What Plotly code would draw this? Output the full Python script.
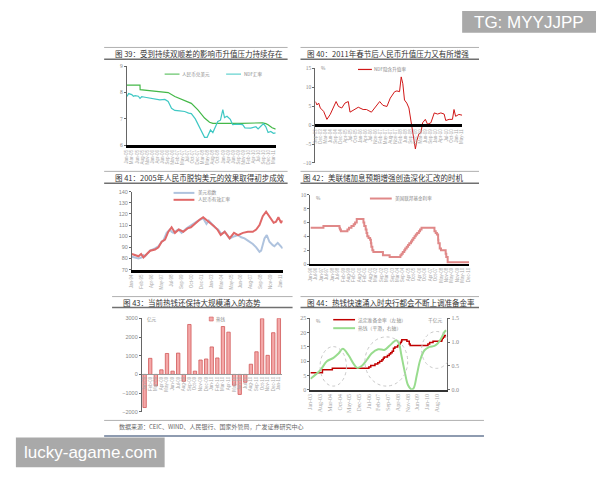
import plotly.graph_objects as go
import pandas as pd

CJK = "Noto Sans CJK SC"
NUM = "Liberation Sans"
SERIF = "Liberation Serif"

# ---------------- data ----------------
# Fig 39: USD/CNY spot and NDF
f39_cny_dates = ["2005-01-01", "2005-07-20", "2005-07-22", "2005-12-20", "2006-05-20", "2006-09-25",
                 "2007-01-05", "2007-04-15", "2007-09-15", "2007-12-25", "2008-04-05", "2008-06-20",
                 "2008-08-10", "2009-10-15", "2010-06-25", "2010-09-10", "2010-11-01", "2010-12-05",
                 "2011-02-05", "2011-04-01"]
f39_cny = [8.28, 8.28, 8.11, 8.08, 8.04, 8.00, 7.85, 7.75, 7.59, 7.34, 7.03, 6.87,
           6.83, 6.83, 6.83, 6.85, 6.82, 6.78, 6.66, 6.61]
f39_ndf_dates = ["2005-01-01", "2005-01-26", "2005-03-15", "2005-04-10", "2005-05-05", "2005-06-25",
                 "2005-07-20", "2005-08-15", "2005-10-05", "2005-12-20", "2006-03-05", "2006-05-20",
                 "2006-08-05", "2006-09-25", "2006-11-15", "2007-01-05", "2007-03-20", "2007-06-05",
                 "2007-08-05", "2007-09-15", "2007-11-15", "2007-12-25", "2008-02-05", "2008-03-10",
                 "2008-04-05", "2008-05-15", "2008-06-05", "2008-07-05", "2008-08-10", "2008-09-15",
                 "2008-10-25", "2008-12-05", "2009-01-10", "2009-02-05", "2009-03-15", "2009-05-05",
                 "2009-06-10", "2009-08-25", "2009-11-10", "2009-12-15", "2010-03-15", "2010-06-01",
                 "2010-07-05", "2010-08-15", "2010-09-25", "2010-11-01", "2010-12-05", "2011-01-15",
                 "2011-02-25", "2011-04-01"]
f39_ndf = [7.85, 7.96, 7.92, 7.86, 7.88, 7.86, 7.78, 7.84, 7.82, 7.78, 7.74, 7.72,
           7.74, 7.66, 7.40, 7.32, 7.30, 7.28, 7.22, 7.20, 7.00, 6.80, 6.62, 6.45,
           6.30, 6.30, 6.45, 6.58, 6.48, 6.65, 6.90, 6.95, 7.35, 7.05, 7.10, 6.98,
           6.78, 6.80, 6.78, 6.66, 6.65, 6.70, 6.62, 6.72, 6.82, 6.70, 6.48, 6.52,
           6.45, 6.47]

# Fig 40: NDF implied appreciation (%)
f40_dates = ["2003-09-01", "2003-10-02", "2003-11-03", "2003-12-05", "2004-02-07", "2004-04-10",
             "2004-06-12", "2004-08-15", "2004-10-03", "2004-11-18", "2005-01-20", "2005-03-22",
             "2005-05-25", "2005-06-27", "2005-10-01", "2005-12-03", "2006-03-06", "2006-05-09",
             "2006-08-12", "2006-11-15", "2007-01-18", "2007-03-21", "2007-06-06", "2007-08-09",
             "2007-11-01", "2007-12-15", "2008-02-03", "2008-03-06", "2008-04-06", "2008-05-08",
             "2008-06-21", "2008-08-01", "2008-09-01", "2008-10-02", "2008-10-27", "2008-12-03",
             "2009-01-01", "2009-02-06", "2009-03-20", "2009-04-21", "2009-06-12", "2009-07-25",
             "2009-09-27", "2009-12-01", "2010-02-03", "2010-04-06", "2010-06-08", "2010-07-09",
             "2010-09-12", "2010-11-15", "2010-12-15", "2011-01-15", "2011-03-18", "2011-05-20"]
f40_rate = [6.2, 5.3, 5.8, 4.5, 3.6, 1.5, 2.8, 4.5, 6.2, 4.9, 4.5, 5.8,
            6.2, 3.4, 4.1, 4.7, 4.1, 4.1, 3.4, 5.2, 6.2, 5.2, 4.9, 7.1,
            8.8, 9.0, 8.8, 12.7, 10.9, 6.6, 5.8, 4.5, 1.5, -1.1, -3.7, -6.3,
            -4.1, -2.4, -2.0, 0.6, 1.5, 0.2, 0.6, 3.2, 2.9, 3.2, 2.9, 1.2,
            1.5, 1.5, 4.1, 2.3, 2.8, 2.6]

# Fig 41: USD index and CNY effective rate
f41_usd_dates = ["1994-01-01", "1994-05-15", "1994-10-03", "1995-02-18", "1995-04-27", "1995-07-06",
                 "1996-02-01", "1996-08-25", "1997-01-12", "1997-05-28", "1997-08-06", "1997-12-21",
                 "1998-05-09", "1998-07-15", "1998-09-24", "1999-04-18", "1999-09-06", "2000-04-01",
                 "2000-10-25", "2001-07-28", "2002-02-22", "2002-07-09", "2002-10-15", "2003-02-03",
                 "2003-06-19", "2003-11-06", "2004-03-22", "2004-08-09", "2005-03-03", "2005-09-27",
                 "2006-02-15", "2006-07-01", "2006-11-16", "2007-04-03", "2007-10-27", "2008-03-15",
                 "2008-08-01", "2008-10-09", "2009-02-25", "2009-06-01", "2009-09-18", "2010-02-05",
                 "2010-04-15", "2010-09-01", "2011-01-16", "2011-03-25"]
f41_usd = [81.5, 81, 80, 81, 83, 82, 87, 89, 91, 95, 96, 103,
           106, 104, 103, 106, 103, 107, 110, 114, 116, 111, 114, 111,
           108, 106, 102, 104, 98, 100, 101, 99, 98, 96, 93, 90,
           86, 87, 98, 101, 95, 92, 91, 94, 90, 89]
f41_cny_dates = ["1994-01-01", "1994-05-15", "1994-10-03", "1995-01-20", "1995-04-27", "1995-09-15",
                 "1996-02-01", "1996-08-25", "1997-01-12", "1997-05-28", "1997-10-15", "1998-03-01",
                 "1998-07-15", "1998-12-03", "1999-05-15", "1999-11-15", "2000-05-12", "2000-09-28",
                 "2001-04-21", "2001-10-06", "2002-02-22", "2002-08-19", "2003-01-06", "2003-05-22",
                 "2003-10-09", "2004-02-25", "2004-08-09", "2005-03-03", "2005-09-01", "2006-02-15",
                 "2006-09-09", "2007-04-03", "2007-10-27", "2008-03-15", "2008-08-01", "2008-12-15",
                 "2009-05-03", "2009-07-12", "2009-11-28", "2010-03-15", "2010-06-21", "2010-09-28",
                 "2010-12-06", "2011-01-16", "2011-03-25"]
f41_cny = [84, 83, 82, 84, 81, 84, 87, 88, 90, 95, 97, 104,
           108, 103, 106, 104, 107, 108, 112, 115, 117, 114, 112, 109,
           106, 101, 104, 98, 103, 101, 103, 104, 104, 106, 110, 118,
           122, 120, 115, 112, 113, 117, 114, 112, 114]

# Fig 42: US federal funds target rate (%)
f42_dates = ["1996-01-01", "1997-03-25", "1998-09-29", "1998-10-15", "1998-11-17", "1999-06-30",
             "1999-08-24", "1999-11-16", "2000-02-02", "2000-03-21", "2000-05-16", "2001-01-03",
             "2001-01-31", "2001-03-20", "2001-04-18", "2001-05-15", "2001-06-27", "2001-08-21",
             "2001-09-17", "2001-10-02", "2001-11-06", "2001-12-11", "2002-11-06", "2003-06-25",
             "2004-06-30", "2004-08-10", "2004-09-21", "2004-11-10", "2004-12-14", "2005-02-02",
             "2005-03-22", "2005-05-03", "2005-06-30", "2005-08-09", "2005-09-20", "2005-11-01",
             "2005-12-13", "2006-01-31", "2006-03-28", "2006-05-10", "2006-06-29", "2007-09-18",
             "2007-10-31", "2007-12-11", "2008-01-22", "2008-01-30", "2008-03-18", "2008-04-30",
             "2008-10-08", "2008-10-29", "2008-12-16", "2010-12-25"]
f42_fed = [5.25, 5.50, 5.25, 5.00, 4.75, 5.00, 5.25, 5.50, 5.75, 6.00, 6.50, 6.00,
           5.50, 5.00, 4.50, 4.00, 3.75, 3.50, 3.00, 2.50, 2.00, 1.75, 1.25, 1.00,
           1.25, 1.50, 1.75, 2.00, 2.25, 2.50, 2.75, 3.00, 3.25, 3.50, 3.75, 4.00,
           4.25, 4.50, 4.75, 5.00, 5.25, 4.75, 4.50, 4.25, 3.50, 3.00, 2.25, 2.00,
           1.50, 1.00, 0.25, 0.25]

# Fig 43: monthly hot money (100 million yuan)
f43_months = ["Jan-09", "Feb-09", "Mar-09", "Apr-09", "May-09", "Jun-09", "Jul-09", "Aug-09",
              "Sep-09", "Oct-09", "Nov-09", "Dec-09", "Jan-10", "Feb-10", "Mar-10", "Apr-10",
              "May-10", "Jun-10", "Jul-10", "Aug-10", "Sep-10", "Oct-10", "Nov-10", "Dec-10", "Jan-11"]
f43_hot = [-1770, 860, -610, 245, 1120, 175, 1140, -370, 2670, 175, 770, 825,
           1470, 880, 2560, 2260, -580, -1070, -420, 545, 1210, 2980, 1020, 2230, 3000]

# Fig 44: required reserve ratio (%) and smoothed hot money (trillion yuan)
f44_rrr_dates = ["2003-01-01", "2003-09-21", "2004-04-25", "2006-07-05", "2006-08-15", "2006-11-15",
                 "2007-01-15", "2007-02-25", "2007-04-16", "2007-05-15", "2007-06-05", "2007-08-15",
                 "2007-09-25", "2007-10-25", "2007-11-26", "2007-12-25", "2008-01-25", "2008-03-25",
                 "2008-04-25", "2008-05-20", "2008-06-15", "2008-06-25", "2008-10-15", "2008-12-05",
                 "2008-12-25", "2010-01-18", "2010-02-25", "2010-05-10", "2010-11-16", "2010-11-29",
                 "2010-12-20", "2011-01-20", "2011-02-20"]
f44_rrr = [6.0, 7.0, 7.5, 8.0, 8.5, 9.0, 9.5, 10.0, 10.5, 11.0, 11.5, 12.0,
           12.5, 13.0, 13.5, 14.5, 15.0, 15.5, 16.0, 16.5, 17.0, 17.5, 17.0, 16.0,
           15.5, 16.0, 16.5, 17.0, 17.5, 18.0, 18.5, 19.0, 19.0]
f44_hot_dates = ["2003-01-01", "2003-08-04", "2003-12-28", "2004-05-20", "2004-09-07", "2004-12-10",
                 "2005-04-12", "2005-08-01", "2005-10-25", "2006-01-28", "2006-05-15", "2006-09-01",
                 "2007-01-25", "2007-06-18", "2007-10-04", "2008-02-28", "2008-04-25", "2008-06-15",
                 "2008-08-28", "2008-11-07", "2009-01-19", "2009-03-09", "2009-05-20", "2009-08-01",
                 "2009-11-04", "2010-02-22", "2010-06-10", "2010-08-20", "2010-11-01", "2011-01-13",
                 "2011-02-20"]
f44_hot = [0.23, 0.41, 0.60, 0.67, 0.76, 0.86, 0.73, 0.55, 0.46, 0.50, 0.62, 0.76,
           0.85, 0.84, 0.93, 1.04, 0.97, 0.73, 0.38, 0.10, 0.01, 0.03, 0.31, 0.62,
           0.83, 0.90, 0.92, 0.97, 1.07, 1.21, 1.25]
# highlighted periods (dates, left-axis values)
f44_circles = [("2003-08-01", "2005-03-01", 1.3, 15.1),
               ("2006-04-10", "2008-11-01", 1.3, 18.5),
               ("2009-09-01", "2011-06-12", 7.5, 20.4)]

# ---------------- helpers ----------------
W, H = 600, 480
def px(x): return x / W
def py(y): return 1 - y / H

shapes, annotations = [], []
XTICK_C = "#a8a8a8"
LEG_C = "#888888"

def hline(x0, x1, y, color, width):
    shapes.append(dict(type="line", xref="paper", yref="paper", x0=px(x0), x1=px(x1),
                       y0=py(y), y1=py(y), line=dict(color=color, width=width)))

def text(x, y, s, size, color="#555", anchor="left", family=CJK):
    annotations.append(dict(xref="paper", yref="paper", x=px(x), y=py(y), text=s, showarrow=False,
                            xanchor=anchor, yanchor="middle", borderpad=0,
                            font=dict(size=size, color=color, family=family)))

def dticks(start, end, n=None, freq=None):
    if freq:
        r = pd.date_range(start, end, freq=freq)
    else:
        r = pd.date_range(start, end, periods=n)
    return [t.strftime("%Y-%m-%d") for t in r], [t.strftime("%b-%y") for t in r]

def xdate(dom, rng, anchor, tv, tsize=4.5, lw=3, lc="#000", free=None, tfam=NUM):
    vals, txt = tv
    d = dict(type="date", domain=[px(dom[0]), px(dom[1])], range=rng, anchor=anchor,
             tickmode="array", tickvals=vals, ticktext=txt, tickangle=-90,
             tickfont=dict(size=tsize, color=XTICK_C, family=tfam),
             showline=True, linecolor=lc, linewidth=lw, showgrid=False, zeroline=False, ticks="")
    if free is not None:
        d["anchor"] = "free"
        d["position"] = py(free)
    return d

def yax(top, bottom, rng, dtick, anchor, size=5.5, fmt=None, side="left", overlaying=None, fam=NUM):
    d = dict(domain=[py(bottom), py(top)], range=rng, dtick=dtick, tick0=rng[0], anchor=anchor,
             side=side, showline=True, linecolor="#666", linewidth=1, ticks="outside", ticklen=2,
             tickcolor="#666", tickfont=dict(size=size, color="#888", family=fam),
             showgrid=False, zeroline=False)
    if fmt:
        d["tickformat"] = fmt
    if overlaying:
        d["overlaying"] = overlaying
    return d

fig = go.Figure()

# ---------------- traces ----------------
fig.add_trace(go.Scatter(x=f39_cny_dates, y=f39_cny, mode="lines", xaxis="x", yaxis="y",
                         line=dict(color="#44b848", width=1.2)))
fig.add_trace(go.Scatter(x=f39_ndf_dates, y=f39_ndf, mode="lines", xaxis="x", yaxis="y",
                         line=dict(color="#40c8c4", width=1.2)))
fig.add_trace(go.Scatter(x=f40_dates, y=f40_rate, mode="lines", xaxis="x2", yaxis="y2",
                         line=dict(color="#d01818", width=1)))
fig.add_trace(go.Scatter(x=f41_usd_dates, y=f41_usd, mode="lines", xaxis="x3", yaxis="y3",
                         line=dict(color="#afc3de", width=2)))
fig.add_trace(go.Scatter(x=f41_cny_dates, y=f41_cny, mode="lines", xaxis="x3", yaxis="y3",
                         line=dict(color="#e06868", width=2)))
fig.add_trace(go.Scatter(x=f42_dates, y=f42_fed, mode="lines", xaxis="x4", yaxis="y4",
                         line=dict(color="#e08888", width=2, shape="hv")))
fig.add_trace(go.Bar(x=f43_months, y=f43_hot, xaxis="x5", yaxis="y5",
                     marker=dict(color="#f4a8a8", line=dict(color="#d05858", width=0.8))))
fig.add_trace(go.Scatter(x=f44_rrr_dates, y=f44_rrr, mode="lines", xaxis="x6", yaxis="y6",
                         line=dict(color="#c00000", width=1.5, shape="hv")))
fig.add_trace(go.Scatter(x=f44_hot_dates, y=f44_hot, mode="lines", xaxis="x6", yaxis="y7",
                         line=dict(color="#98dc8e", width=2, shape="spline")))

# ---------------- axes ----------------
layout_axes = dict(
    xaxis=xdate((125, 275), ["2005-01-01", "2011-04-01"], "y",
                dticks("2005-01-01", "2011-03-01", n=30)),
    yaxis=yax(64, 144, [6, 9], 1, "x", fam=SERIF),
    xaxis2=xdate((315, 463), ["2003-09-01", "2011-05-20"], "y2",
                 dticks("2003-09-01", "2011-05-01", n=30), free=124),
    yaxis2=yax(66, 162, [-10, 15], 5, "x2", fam=SERIF),
    xaxis3=xdate((130, 282), ["1994-01-01", "2011-03-25"], "y3",
                 dticks("1994-01-01", "2011-01-01", n=16)),
    yaxis3=yax(191, 270, [70, 140], 10, "x3"),
    xaxis4=xdate((310, 470), ["1996-01-01", "2010-12-25"], "y4",
                 dticks("1996-01-01", "2010-12-01", n=30), lw=2),
    yaxis4=yax(194.3, 264.3, [0, 10], 2, "x4", fam=SERIF),
    xaxis5=dict(type="category", domain=[px(140), px(281)], anchor="free", position=py(375.7),
                showline=True, linecolor="#999", linewidth=1, ticks="", tickangle=-90,
                tickfont=dict(size=4.5, color=XTICK_C, family=NUM), showgrid=False, zeroline=False),
    yaxis5=yax(319.3, 414, [-2000, 3000], 1000, "x5", fmt="d"),
    xaxis6=xdate((310, 448), ["2003-01-01", "2011-03-18"], "y6",
                 dticks("2003-01-01", "2010-12-01", freq="7MS"), tsize=6, lw=1.5, lc="#333",
                 tfam=SERIF),
    yaxis6=yax(319.3, 391.7, [0, 25], 5, "x6", size=6, fam=SERIF),
    yaxis7=yax(319.3, 391.7, [0, 1.5], 0.5, "x6", size=6, fmt=".1f", side="right",
               overlaying="y6", fam=SERIF),
)

for (xa, xb, ya, yb) in f44_circles:
    shapes.append(dict(type="circle", xref="x6", yref="y6", x0=xa, x1=xb, y0=ya, y1=yb,
                       line=dict(color="#c8c8c8", width=1, dash="dot")))

# ---------------- page decorations ----------------
TITLE = 7.5
TC = "#333333"
# row 1
hline(102, 287, 45, "#b0b0b0", 1); hline(102, 287, 57, "#707070", 1.5)
hline(300, 480, 45, "#b0b0b0", 1); hline(300, 480, 57, "#707070", 1.5)
text(112, 51, "图 39：受到持续双顺差的影响币升值压力持续存在", TITLE, TC)
text(306, 51, "图 40：2011年春节后人民币升值压力又有所增强", TITLE, TC)
# row 2
hline(102, 287, 170.5, "#b0b0b0", 1); hline(102, 287, 182.5, "#707070", 1.5)
hline(300, 480, 170.5, "#b0b0b0", 1); hline(300, 480, 182.5, "#707070", 1.5)
text(112, 176.5, "图 41：2005年人民币脱钩美元的效果取得初步成效", TITLE, TC)
text(302, 176.5, "图 42：美联储加息预期增强创造深化汇改的时机", TITLE, TC)
# row 3
hline(110, 292, 297.3, "#b0b0b0", 1); hline(110, 292, 308.3, "#707070", 1.5)
hline(300, 480, 297.3, "#b0b0b0", 1); hline(300, 480, 308.3, "#707070", 1.5)
text(120, 302.8, "图 43：当前热钱还保持大规模涌入的态势", TITLE, TC)
text(306, 302.8, "图 44：热钱快速涌入时央行都会不断上调准备金率", TITLE, TC)
# source
hline(102, 485, 422.7, "#b0b0b0", 1)
text(116, 428.5, "数据来源：CEIC、WIND、人民银行、国家外管局，广发证券研究中心", 6, "#666")
hline(102, 485, 438.5, "#8e9bb0", 2)

# legends
hline(163, 178, 72, "#44b848", 1); text(179, 72, "人民币兑美元", 4.6, LEG_C)
hline(225, 240, 72, "#40c8c4", 1); text(242, 72, "NDF汇率", 4.6, LEG_C)
hline(358, 372, 67.3, "#d01818", 1.2); text(373, 67.3, "NDF隐含升值率", 4.6, LEG_C)
text(320, 65.5, "%", 4.8, LEG_C)
hline(172, 193, 192.3, "#afc3de", 2); text(196, 192.3, "美元指数", 4.6, LEG_C)
hline(172, 193, 199.3, "#e06868", 2); text(196, 199.3, "人民币有效汇率", 4.6, LEG_C)
hline(370, 392, 198, "#e08888", 2); text(394, 198, "美国联邦基金利率", 4.6, LEG_C)
text(315, 196.5, "%", 4.8, LEG_C)
shapes.append(dict(type="rect", xref="paper", yref="paper", x0=px(208), x1=px(212),
                   y0=py(322), y1=py(318), fillcolor="#f4a8a8", line=dict(color="#d05858", width=0.6)))
text(213.5, 320, "热钱", 4.6, LEG_C)
text(144, 320.5, "亿元", 4.6, LEG_C)
hline(333, 355, 320.7, "#c00000", 1.5); text(357, 320.7, "法定准备金率（左轴）", 4.8, LEG_C)
hline(333, 355, 329.3, "#98dc8e", 2); text(357, 329.3, "热钱（平滑，右轴）", 4.8, LEG_C)
text(315, 322, "%", 4.8, LEG_C)
text(428, 321, "千亿元", 4.8, LEG_C)

# watermarks
shapes.append(dict(type="rect", xref="paper", yref="paper", x0=px(463), x1=px(598), y0=py(30), y1=py(8),
                   fillcolor="#a9a9a9", line=dict(width=0)))
text(530.5, 19.5, "TG: MYYJJPP", 17, "#ffffff", anchor="center", family="Liberation Sans")
shapes.append(dict(type="rect", xref="paper", yref="paper", x0=px(13), x1=px(163), y0=py(470), y1=py(440),
                   fillcolor="#a9a9a9", line=dict(width=0)))
text(88, 455.5, "lucky-agame.com", 17, "#ffffff", anchor="center", family="Liberation Sans")

fig.update_layout(
    width=W, height=H, margin=dict(l=0, r=0, t=0, b=0),
    paper_bgcolor="#ffffff", plot_bgcolor="#ffffff", showlegend=False,
    bargap=0.4, shapes=shapes, annotations=annotations, **layout_axes,
)

fig.write_html("out.html")
